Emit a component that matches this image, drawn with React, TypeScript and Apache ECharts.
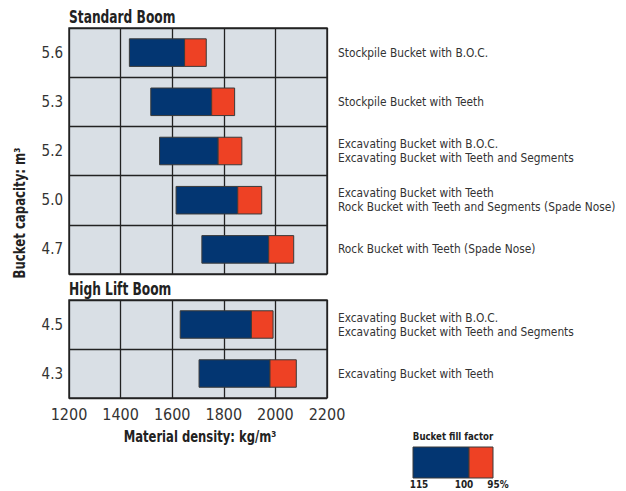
import React, { useEffect, useRef } from "react";
import * as echarts from "echarts";

// ---- data ----
const capsStd = ["5.6", "5.3", "5.2", "5.0", "4.7"];
const descStd = [
  "Stockpile Bucket with B.O.C.",
  "Stockpile Bucket with Teeth",
  "Excavating Bucket with B.O.C.\nExcavating Bucket with Teeth and Segments",
  "Excavating Bucket with Teeth\nRock Bucket with Teeth and Segments (Spade Nose)",
  "Rock Bucket with Teeth (Spade Nose)",
];
const fill115Std = [1434, 1517, 1551, 1615, 1715];
const fill100Std = [1648, 1753, 1778, 1854, 1974];
const fill95Std = [1732, 1842, 1870, 1947, 2071];

const capsHL = ["4.5", "4.3"];
const descHL = [
  "Excavating Bucket with B.O.C.\nExcavating Bucket with Teeth and Segments",
  "Excavating Bucket with Teeth",
];
const fill115HL = [1631, 1704];
const fill100HL = [1907, 1979];
const fill95HL = [1991, 2081];

const legendLabels = ["115", "100", "95%"];

const xMin = 1200;
const xMax = 2200;
const xStep = 200;

const BLUE = "#033672";
const RED = "#ee4124";
const BG = "#d9dfe5";
const FONT = "'Liberation Sans Narrow', 'DejaVu Sans Condensed', 'Roboto Condensed', sans-serif";

function rows(a: number[], b: number[], c: number[]) {
  return a.map((v, i) => [i, v, b[i], c[i]]);
}

const renderBar = (params: any, api: any) => {
  const cat = api.value(0);
  const p0 = api.coord([api.value(1), cat]);
  const p1 = api.coord([api.value(2), cat]);
  const p2 = api.coord([api.value(3), cat]);
  const h = api.size([0, 1])[1] * 0.56;
  return {
    type: "group",
    children: [
      {
        type: "rect",
        shape: { x: p0[0], y: p0[1] - h / 2, width: p1[0] - p0[0], height: h },
        style: { fill: BLUE, stroke: "#3a3a3a", lineWidth: 1 },
      },
      {
        type: "rect",
        shape: { x: p1[0], y: p1[1] - h / 2, width: p2[0] - p1[0], height: h },
        style: { fill: RED, stroke: "#3a3a3a", lineWidth: 1 },
      },
    ],
  };
};

const boldText = (text: string, x: number, y: number, size: number, sx: number, extra: any = {}) => ({
  type: "text",
  x,
  y,
  scaleX: sx,
  ...extra,
  style: {
    text,
    fontFamily: FONT,
    fontWeight: "bold",
    fontSize: size,
    fill: "#222",
    align: extra.align || "center",
    verticalAlign: "middle",
  },
});

export default function App() {
  const ref = useRef<HTMLDivElement>(null);
  useEffect(() => {
    document.body.style.margin = "0";
    const chart = echarts.init(ref.current!, null, { renderer: "svg" });
    const gridCommon = {
      left: 69,
      width: 258,
      show: true,
      backgroundColor: BG,
      borderColor: "#2e2e2e",
      borderWidth: 1.5,
    };
    const xCommon = {
      type: "value",
      min: xMin,
      max: xMax,
      interval: xStep,
      axisLine: { show: false },
      axisTick: { show: false },
      splitLine: { show: true, lineStyle: { color: "#222", width: 1.3 } },
    };
    const yLeft = (data: string[], gi: number) => ({
      type: "category",
      gridIndex: gi,
      data,
      inverse: true,
      axisLine: { show: false },
      axisTick: { show: false },
      splitLine: { show: true, interval: 0, lineStyle: { color: "#222", width: 1.3 } },
      axisLabel: { fontFamily: FONT, fontSize: 15, color: "#333", margin: 6 },
    });
    const yRight = (data: string[], gi: number) => ({
      type: "category",
      gridIndex: gi,
      data,
      inverse: true,
      position: "right",
      axisLine: { show: false },
      axisTick: { show: false },
      splitLine: { show: false },
      axisLabel: {
        fontFamily: FONT,
        fontSize: 11.8,
        lineHeight: 14,
        color: "#333",
        margin: 11,
        align: "left",
      },
    });
    const titleGraphic = (text: string, y: number) => {
      const g: any = boldText(text, 69, y, 17, 0.8, {});
      g.style.align = "left";
      return g;
    };
    const legText = (text: string, x: number) => boldText(text, x, 484, 11, 0.9);
    chart.setOption({
      animation: false,
      grid: [
        { ...gridCommon, top: 28, height: 246 },
        { ...gridCommon, top: 300, height: 98 },
      ],
      xAxis: [
        { ...xCommon, gridIndex: 0, axisLabel: { show: false } },
        {
          ...xCommon,
          gridIndex: 1,
          axisLabel: {
            fontFamily: FONT,
            fontSize: 16,
            color: "#333",
            margin: 8,
            formatter: (v: number) => String(v),
          },
        },
      ],
      yAxis: [yLeft(capsStd, 0), yRight(descStd, 0), yLeft(capsHL, 1), yRight(descHL, 1)],
      series: [
        {
          type: "custom",
          xAxisIndex: 0,
          yAxisIndex: 0,
          renderItem: renderBar,
          encode: { x: [1, 2, 3], y: 0 },
          data: rows(fill115Std, fill100Std, fill95Std),
          z: 5,
        },
        {
          type: "custom",
          xAxisIndex: 1,
          yAxisIndex: 2,
          renderItem: renderBar,
          encode: { x: [1, 2, 3], y: 0 },
          data: rows(fill115HL, fill100HL, fill95HL),
          z: 5,
        },
      ],
      graphic: [
        titleGraphic("Standard Boom", 17),
        titleGraphic("High Lift Boom", 289),
        boldText("Bucket capacity: m³", 20, 213, 15, 0.87, { rotation: Math.PI / 2 }),
        boldText("Material density: kg/m³", 200, 437, 15, 0.86),
        boldText("Bucket fill factor", 453, 436, 11, 0.87),
        {
          type: "rect",
          shape: { x: 413, y: 447, width: 56, height: 31 },
          style: { fill: BLUE, stroke: "#3a3a3a", lineWidth: 1 },
        },
        {
          type: "rect",
          shape: { x: 469, y: 447, width: 24, height: 31 },
          style: { fill: RED, stroke: "#3a3a3a", lineWidth: 1 },
        },
        legText(legendLabels[0], 419),
        legText(legendLabels[1], 464),
        legText(legendLabels[2], 498),
      ],
    });
    return () => chart.dispose();
  }, []);
  return <div ref={ref} style={{ width: 626, height: 491 }} />;
}
